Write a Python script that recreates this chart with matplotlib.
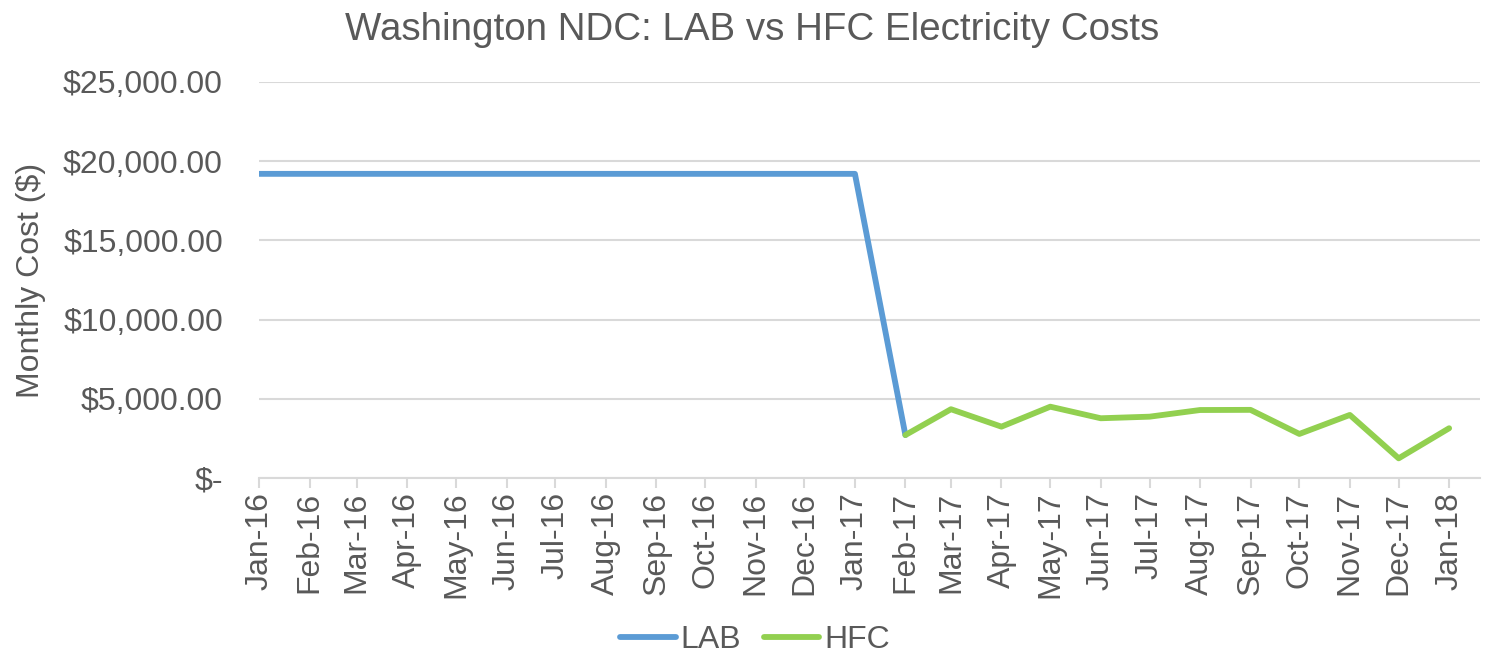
import matplotlib.pyplot as plt
import numpy as np
import datetime as dt

plt.rcParams['font.family'] = ['Liberation Sans', 'DejaVu Sans']

months = ['Jan-16', 'Feb-16', 'Mar-16', 'Apr-16', 'May-16', 'Jun-16', 'Jul-16',
          'Aug-16', 'Sep-16', 'Oct-16', 'Nov-16', 'Dec-16', 'Jan-17', 'Feb-17',
          'Mar-17', 'Apr-17', 'May-17', 'Jun-17', 'Jul-17', 'Aug-17', 'Sep-17',
          'Oct-17', 'Nov-17', 'Dec-17', 'Jan-18']

lab = [19200, 19200, 19200, 19200, 19200, 19200, 19200, 19200, 19200, 19200,
       19200, 19200, 19200, 2710]
hfc = [2710, 4340, 3240, 4500, 3770, 3870, 4290, 4300, 2780, 3980, 1240, 3140]

dates = [dt.datetime.strptime(m, '%b-%y') for m in months]
lab_dates = dates[:len(lab)]
hfc_dates = dates[len(lab) - 1:]

text_col = '#595959'
grid_col = '#D9D9D9'
fs = 23

fig = plt.figure(figsize=(14.89, 6.59), dpi=100)
ax = fig.add_axes([0.174, 0.2747, 0.82, 0.6009])

ax.plot(lab_dates, lab, color='#5B9BD5', lw=4.2, label='LAB', solid_capstyle='round', solid_joinstyle='round')
ax.plot(hfc_dates, hfc, color='#92D050', lw=4.2, label='HFC', solid_capstyle='round', solid_joinstyle='round')

ax.set_ylim(0, 25000)
ax.set_yticks(np.arange(0, 25001, 5000))
ax.set_yticklabels(['$-' if v == 0 else f'${v:,.2f}' for v in np.arange(0, 25001, 5000)])
ax.set_xlim(dates[0], dates[-1] + dt.timedelta(days=19))
ax.set_xticks(dates)
ax.set_xticklabels(months, rotation=90)

ax.grid(axis='y', color=grid_col, lw=1.5)
ax.set_axisbelow(True)
for s in ['top', 'right', 'left']:
    ax.spines[s].set_visible(False)
ax.spines['bottom'].set_color(grid_col)
ax.spines['bottom'].set_linewidth(1.5)
ax.tick_params(axis='y', length=0, labelsize=fs, labelcolor=text_col, pad=26)
ax.tick_params(axis='x', length=7, width=1.5, color=grid_col, labelsize=fs, labelcolor=text_col, pad=3)

ax.set_ylabel('Monthly Cost ($)', fontsize=fs, color=text_col, labelpad=12)
fig.suptitle('Washington NDC: LAB vs HFC Electricity Costs', fontsize=27.7, color=text_col, x=0.505, y=0.982)

leg = fig.legend(loc='lower center', bbox_to_anchor=(0.507, -0.038), ncol=2, frameon=False,
                 fontsize=fs, handlelength=1.75, handletextpad=0.15, columnspacing=0.7)
for t in leg.get_texts():
    t.set_color(text_col)

fig.savefig('out.png', dpi=100)
